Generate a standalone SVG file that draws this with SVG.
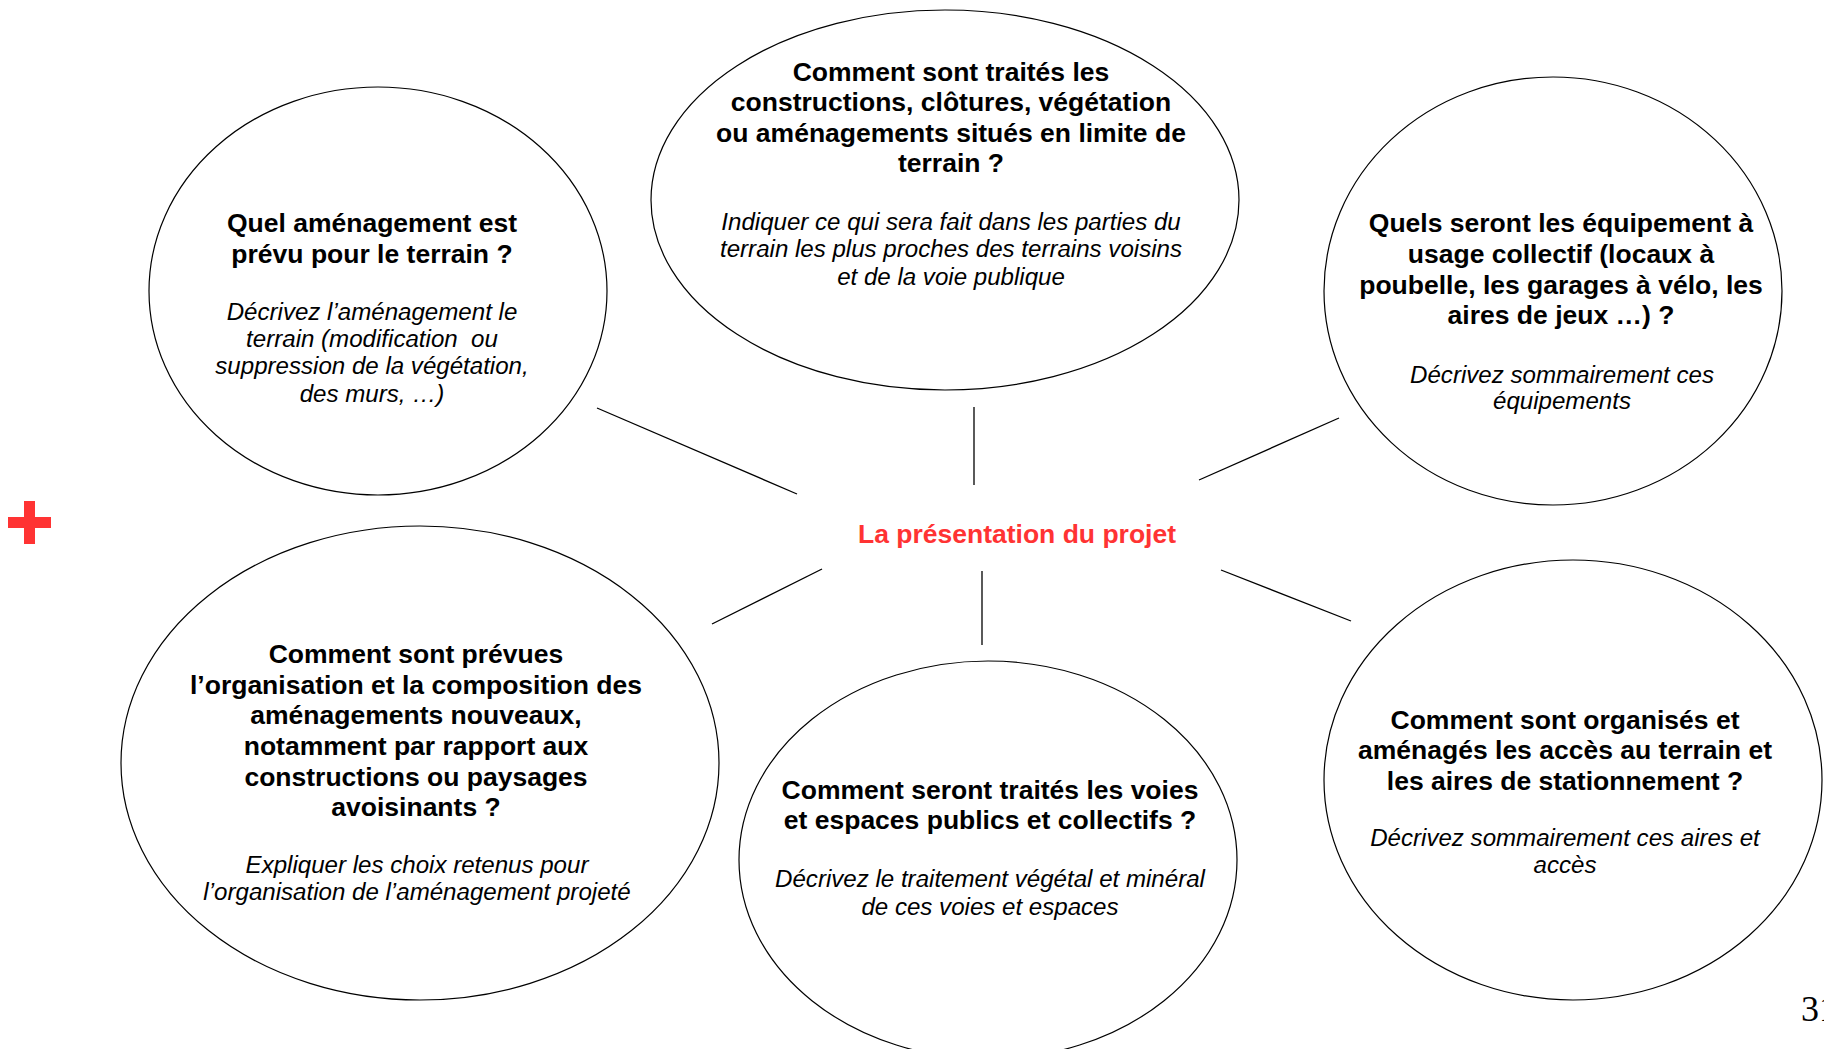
<svg xmlns="http://www.w3.org/2000/svg" width="1824" height="1049" viewBox="0 0 1824 1049">
<style>
.bub{fill:#fff;stroke:#000;stroke-width:1.2}
.q{font-family:"Liberation Sans",Arial,sans-serif;font-weight:bold;font-size:26.5px;fill:#000;text-anchor:middle}
.d{font-family:"Liberation Sans",Arial,sans-serif;font-style:italic;font-size:24.1px;fill:#000;text-anchor:middle}
.lnk{stroke:#000;stroke-width:1.3;fill:none}
</style>
<rect width="1824" height="1049" fill="#fff"/>
<g id="connectors">
<line class="lnk" x1="597" y1="408" x2="797" y2="494"/>
<line class="lnk" x1="974" y1="407" x2="974" y2="485"/>
<line class="lnk" x1="1339" y1="418" x2="1199" y2="480"/>
<line class="lnk" x1="822" y1="569" x2="712" y2="624"/>
<line class="lnk" x1="982" y1="571" x2="982" y2="645"/>
<line class="lnk" x1="1221" y1="570" x2="1351" y2="621"/>
</g>
<g id="node-amenagement">
<ellipse class="bub" cx="378" cy="291" rx="229" ry="204"/>
<text class="q" x="372"><tspan x="372" y="232">Quel aménagement est</tspan><tspan x="372" y="263">prévu pour le terrain ?</tspan></text>
<text class="d" x="372"><tspan x="372" y="320">Décrivez l’aménagement le</tspan><tspan x="372" y="347">terrain (modification&#160; ou</tspan><tspan x="372" y="374">suppression de la végétation,</tspan><tspan x="372" y="402">des murs, …)</tspan></text>
</g>
<g id="node-limites">
<ellipse class="bub" cx="945" cy="200" rx="294" ry="190"/>
<text class="q"><tspan x="951" y="81">Comment sont traités les</tspan><tspan x="951" y="111">constructions, clôtures, végétation</tspan><tspan x="951" y="142">ou aménagements situés en limite de</tspan><tspan x="951" y="172">terrain ?</tspan></text>
<text class="d"><tspan x="951" y="230">Indiquer ce qui sera fait dans les parties du</tspan><tspan x="951" y="257">terrain les plus proches des terrains voisins</tspan><tspan x="951" y="285">et de la voie publique</tspan></text>
</g>
<g id="node-equipements">
<ellipse class="bub" cx="1553" cy="291" rx="229" ry="214"/>
<text class="q"><tspan x="1561" y="232">Quels seront les équipement à</tspan><tspan x="1561" y="263">usage collectif (locaux à</tspan><tspan x="1561" y="294">poubelle, les garages à vélo, les</tspan><tspan x="1561" y="324">aires de jeux …) ?</tspan></text>
<text class="d"><tspan x="1562" y="383">Décrivez sommairement ces</tspan><tspan x="1562" y="409">équipements</tspan></text>
</g>
<g id="node-organisation">
<ellipse class="bub" cx="420" cy="763" rx="299" ry="237"/>
<text class="q"><tspan x="416" y="663">Comment sont prévues</tspan><tspan x="416" y="694">l’organisation et la composition des</tspan><tspan x="416" y="724">aménagements nouveaux,</tspan><tspan x="416" y="755">notamment par rapport aux</tspan><tspan x="416" y="786">constructions ou paysages</tspan><tspan x="416" y="816">avoisinants ?</tspan></text>
<text class="d"><tspan x="417" y="873">Expliquer les choix retenus pour</tspan><tspan x="417" y="900">l’organisation de l’aménagement projeté</tspan></text>
</g>
<g id="node-voies">
<ellipse class="bub" cx="988" cy="860" rx="249" ry="199"/>
<text class="q"><tspan x="990" y="799">Comment seront traités les voies</tspan><tspan x="990" y="829">et espaces publics et collectifs ?</tspan></text>
<text class="d"><tspan x="990" y="887">Décrivez le traitement végétal et minéral</tspan><tspan x="990" y="915">de ces voies et espaces</tspan></text>
</g>
<g id="node-acces">
<ellipse class="bub" cx="1573" cy="780" rx="249" ry="220"/>
<text class="q"><tspan x="1565" y="729">Comment sont organisés et</tspan><tspan x="1565" y="759">aménagés les accès au terrain et</tspan><tspan x="1565" y="790">les aires de stationnement ?</tspan></text>
<text class="d"><tspan x="1565" y="846">Décrivez sommairement ces aires et</tspan><tspan x="1565" y="873">accès</tspan></text>
</g>
<g id="node-centre">
<text x="1017" y="543" font-family="Liberation Sans, Arial, sans-serif" font-weight="bold" font-size="26.5" fill="#ff3333" text-anchor="middle">La présentation du projet</text>
</g>
<g id="plus" fill="#ff3333">
<rect x="8" y="517" width="43" height="11"/>
<rect x="24" y="501" width="11" height="43"/>
</g>
<text x="1801" y="1021" font-family="Liberation Serif, serif" font-size="36" fill="#000">31</text>
</svg>
